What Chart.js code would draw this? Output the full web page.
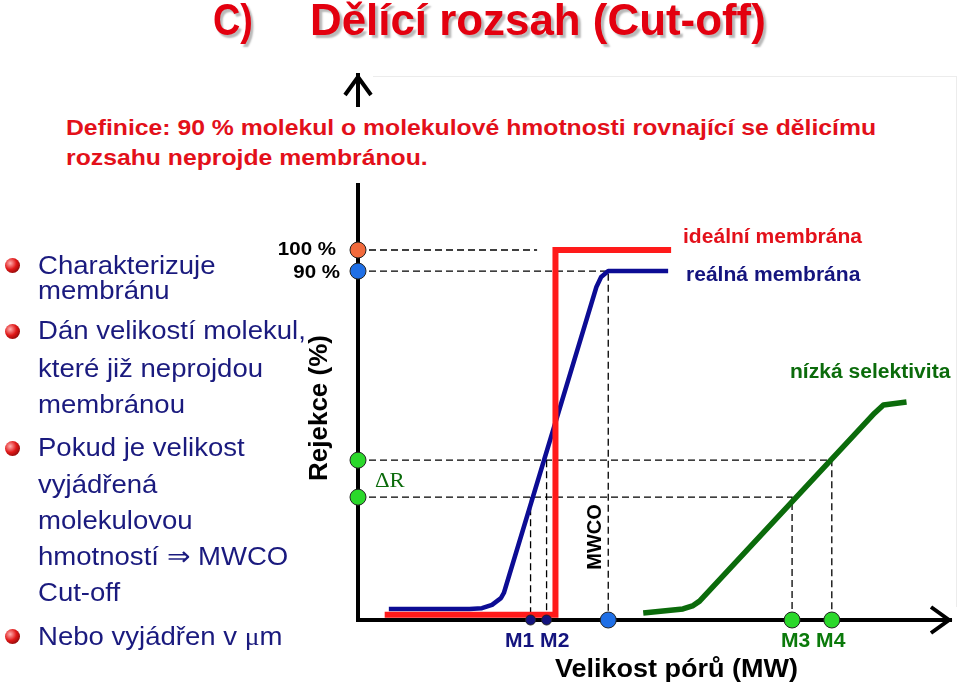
<!DOCTYPE html>
<html>
<head>
<meta charset="utf-8">
<script src="https://cdn.jsdelivr.net/npm/chart.js@4.4.1/dist/chart.umd.min.js"></script>
<style>
html, body { margin: 0; padding: 0; background: #fff; }
body { width: 960px; height: 687px; position: relative; overflow: hidden; font-family: 'Liberation Sans', Arial, sans-serif; }
#wrap { position: absolute; left: 0; top: 0; width: 960px; height: 687px; }
.t { position: absolute; white-space: nowrap; transform-origin: 0 50%; transform: scaleX(1.08); }
.title { font-size: 45px; line-height: 46px; font-weight: bold; color: #e3000f; text-shadow: 3px 3px 2px rgba(0,0,0,0.28); top: -3px; }
.def { position: absolute; left: 60px; top: 107px; width: 840px; height: 76px; background: #fff; }
.defl { font-size: 22.5px; line-height: 30px; font-weight: bold; color: #e3101a; left: 6px; transform: scaleX(1.1); }
.bl { font-size: 25.5px; line-height: 30px; color: #1a1a7e; left: 38px; }
.ball { position: absolute; left: 5px; width: 15px; height: 15px; border-radius: 50%;
        background: radial-gradient(circle at 35% 35%, #ffb0b0 0%, #e01818 45%, #5a0000 100%); }
.mu { font-family: 'Liberation Serif', serif; }
.frame { position: absolute; left: 373px; top: 76px; width: 583px; height: 530px; border-top: 1px solid #ececec; border-right: 1px solid #ececec; }
</style>
</head>
<body>
<div class="frame"></div>
<div id="wrap"><canvas id="chart"></canvas></div>

<div class="t title" style="left:213px; transform: scaleX(0.84)">C)</div>
<div class="t title" style="left:310px; transform: scaleX(0.975)">Dělící rozsah (Cut-off)</div>

<div class="def">
  <div class="t defl" style="top:6px">Definice: 90 % molekul o molekulové hmotnosti rovnající se dělicímu</div>
  <div class="t defl" style="top:36px">rozsahu neprojde membránou.</div>
</div>

<div class="ball" style="top:258px"></div>
<div class="t bl" style="top:250px">Charakterizuje</div>
<div class="t bl" style="top:275px">membránu</div>

<div class="ball" style="top:324px"></div>
<div class="t bl" style="top:315px">Dán velikostí molekul,</div>
<div class="t bl" style="top:353px">které již neprojdou</div>
<div class="t bl" style="top:389px">membránou</div>

<div class="ball" style="top:441px"></div>
<div class="t bl" style="top:432px">Pokud je velikost</div>
<div class="t bl" style="top:469px">vyjádřená</div>
<div class="t bl" style="top:505px">molekulovou</div>
<div class="t bl" style="top:541px">hmotností ⇒ MWCO</div>
<div class="t bl" style="top:577px">Cut-off</div>

<div class="ball" style="top:629px"></div>
<div class="t bl" style="top:621px">Nebo vyjádřen v <span class="mu">μ</span>m</div>

<script>
// ideální membrána (red step)
const idealX = [ 4.5, 33.3, 33.3, 52.8 ];
const idealY = [ 1.4, 1.4, 100, 100 ];

// reálná membrána (blue)
const realX = [ 5.2, 18.8, 20.9, 22.6, 24.1, 24.6, 40.2, 41.0, 42.2, 52.3 ];
const realY = [ 3.0, 3.0, 3.2, 4.1, 5.9, 7.3, 90.0, 92.7, 94.3, 94.3 ];

// nízká selektivita (green)
const lowX = [ 48.1, 54.8, 56.4, 57.6, 87.1, 88.6, 92.5 ];
const lowY = [ 1.9, 3.0, 3.8, 5.1, 55.9, 58.1, 58.9 ];

// levels marked on the rejection axis: 100 %, 90 %, ΔR upper, ΔR lower
const axisLevels = [ 100, 94.3, 43.2, 33.2 ];
const guideEndX = [ 30.2, 42.2, 79.9, 73.2 ];

// points marked on the size axis
const markerNames = [ 'M1', 'M2', 'MWCO', 'M3', 'M4' ];
const markerX = [ 29.1, 31.8, 42.2, 73.2, 79.9 ];
const markerLevel = [ 33.2, 43.2, 94.3, 33.2, 43.2 ];

const pts = ( xs, ys ) => xs.map( ( x, i ) => ( { x, y: ys[ i ] } ) );

const guides = [];
axisLevels.forEach( ( lv, i ) => {
    guides.push( { x: 0, y: lv }, { x: guideEndX[ i ], y: lv } );
    if ( markerX.includes( guideEndX[ i ] ) ) guides.push( { x: guideEndX[ i ], y: 0 } );
    guides.push( { x: guideEndX[ i ], y: null } );
} );
markerX.forEach( ( mx, i ) => {
    if ( guideEndX.includes( mx ) ) return;
    guides.push( { x: mx, y: markerLevel[ i ] }, { x: mx, y: 0 }, { x: mx, y: null } );
} );

const labels = [
    { text: '100 %', x: 336, y: 250, size: 19, bold: true, color: '#000', align: 'right' },
    { text: '90 %', x: 340, y: 273, size: 19, bold: true, color: '#000', align: 'right' },
    { text: 'Rejekce (%)', x: 320, y: 408, size: 26, bold: true, color: '#000', align: 'center', rot: true },
    { text: 'MWCO', x: 595, y: 537, size: 20, bold: true, color: '#000', align: 'center', rot: true },
    { text: 'ideální membrána', x: 683, y: 238, size: 19.5, bold: true, color: '#e3101a', align: 'left' },
    { text: 'reálná membrána', x: 686, y: 276, size: 19.5, bold: true, color: '#14147e', align: 'left' },
    { text: 'nízká selektivita', x: 790, y: 373, size: 19.5, bold: true, color: '#0b6b0b', align: 'left' },
    { text: 'M1 M2', x: 505, y: 642, size: 19.5, bold: true, color: '#14147e', align: 'left' },
    { text: 'M3 M4', x: 781, y: 642, size: 19.5, bold: true, color: '#0b7a0b', align: 'left' },
    { text: 'Velikost pórů (MW)', x: 555, y: 670, size: 25, bold: true, color: '#000', align: 'left' },
    { text: 'ΔR', x: 375, y: 481, size: 21, bold: false, color: '#0b6b0b', align: 'left', serif: true }
];

const slidePlugin = {
    id: 'slide',
    afterDraw ( chart ) {
        const { ctx, chartArea: a } = chart;
        ctx.save();
        ctx.strokeStyle = '#000';
        ctx.lineWidth = 4;
        ctx.lineCap = 'butt';
        ctx.lineJoin = 'miter';
        ctx.beginPath();
        ctx.moveTo( a.left - 13, a.top + 20 ); ctx.lineTo( a.left, a.top + 2 ); ctx.lineTo( a.left + 13, a.top + 20 );
        ctx.moveTo( a.right - 20, a.bottom - 13 ); ctx.lineTo( a.right - 2, a.bottom ); ctx.lineTo( a.right - 20, a.bottom + 13 );
        ctx.stroke();

        ctx.textBaseline = 'middle';
        labels.forEach( l => {
            ctx.save();
            ctx.fillStyle = l.color;
            ctx.font = ( l.bold ? 'bold ' : '' ) + l.size + 'px ' + ( l.serif ? "'Liberation Serif', serif" : "'Liberation Sans', Arial, sans-serif" );
            ctx.textAlign = l.align;
            ctx.translate( l.x, l.y );
            if ( l.rot ) ctx.rotate( -Math.PI / 2 );
            else ctx.scale( 1.08, 1 );
            ctx.fillText( l.text, 0, 0 );
            ctx.restore();
        } );
        ctx.restore();
    }
};

document.addEventListener( 'DOMContentLoaded', function () {

    Chart.defaults.responsive = true;
    Chart.defaults.maintainAspectRatio = false;
    Chart.defaults.animation = false;
    Chart.defaults.clip = false;
    Chart.defaults.events = [];

    const noTicks = { display: false };
    const noGrid = { display: false, drawTicks: false };

    new Chart( document.getElementById( 'chart' ), {
        type: 'line',
        data: {
            datasets: [ {
                data: pts( axisLevels.map( () => 0 ), axisLevels ),
                showLine: false,
                order: 0,
                pointRadius: 8,
                pointBorderWidth: 1,
                pointBorderColor: '#222',
                pointBackgroundColor: [ '#f26a3c', '#1f6fe6', '#2bd82b', '#2bd82b' ]
            }, {
                data: pts( markerX, markerX.map( () => 0 ) ),
                showLine: false,
                order: 0,
                pointRadius: [ 5, 5, 8, 8, 8 ],
                pointBorderWidth: 1,
                pointBorderColor: '#222',
                pointBackgroundColor: [ '#14147e', '#14147e', '#1f6fe6', '#2bd82b', '#2bd82b' ]
            }, {
                label: 'ideální membrána',
                data: pts( idealX, idealY ),
                order: 1,
                borderColor: '#ff1a1a',
                borderWidth: 6,
                pointRadius: 0,
                tension: 0,
                borderJoinStyle: 'miter'
            }, {
                label: 'reálná membrána',
                data: pts( realX, realY ),
                order: 1,
                borderColor: '#0c0c94',
                borderWidth: 4.5,
                pointRadius: 0,
                tension: 0,
                borderJoinStyle: 'round'
            }, {
                label: 'nízká selektivita',
                data: pts( lowX, lowY ),
                order: 1,
                borderColor: '#0b6b0b',
                borderWidth: 5.5,
                pointRadius: 0,
                tension: 0,
                borderJoinStyle: 'round'
            }, {
                data: guides,
                order: 2,
                spanGaps: false,
                borderColor: '#000',
                borderWidth: 1.3,
                borderDash: [ 7, 4 ],
                pointRadius: 0,
                tension: 0
            } ]
        },
        options: {
            layout: { padding: { left: 358, top: 75, right: 5, bottom: 67 } },
            plugins: { legend: { display: false }, tooltip: { enabled: false } },
            scales: {
                x: {
                    type: 'linear', min: 0, max: 100,
                    ticks: noTicks, grid: noGrid,
                    border: { color: '#000', width: 4 }
                },
                y: {
                    type: 'linear', min: 0, max: 147.3,
                    ticks: noTicks, grid: noGrid,
                    border: { color: '#000', width: 4 }
                }
            }
        },
        plugins: [ slidePlugin ]
    } );

} );
</script>
</body>
</html>
